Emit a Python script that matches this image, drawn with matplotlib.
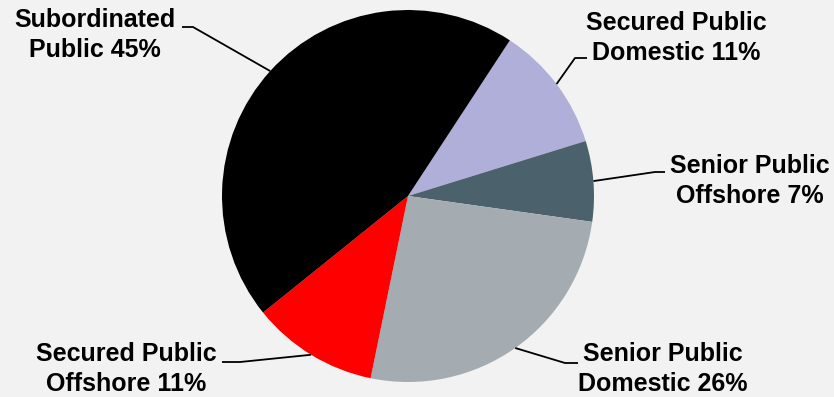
import matplotlib
matplotlib.use("Agg")
import matplotlib.pyplot as plt
import numpy as np

# Data
labels = ["Secured Public\nDomestic 11%", "Senior Public\nOffshore 7%",
          "Senior Public\nDomestic 26%", "Secured Public\nOffshore 11%",
          "Subordinated\nPublic 45%"]
shares = [11, 7, 26, 11, 45]
colors = ["#AFAFD9", "#4B616B", "#A4ACB1", "#FF0000", "#000000"]

W, H = 834, 397
plt.rcParams['font.family'] = ['Liberation Sans', 'DejaVu Sans']

fig = plt.figure(figsize=(W / 100, H / 100), dpi=100, facecolor="#F2F2F2")
ax = fig.add_axes([0, 0, 1, 1])
ax.set_facecolor("#F2F2F2")

cx, cy, r = 408, H - 196, 186
wedges, _ = ax.pie(shares, colors=colors, startangle=56.8, counterclock=False,
                   center=(cx, cy), radius=r, frame=True,
                   wedgeprops=dict(linewidth=0))

# layout: (text x, text y, elbow x, elbow y, end x) in pixel coords (y from top)
layout = [
    (676, 38, 575, 58, 587),
    (750, 181, 655, 172, 665),
    (663, 369, 565, 363, 578),
    (126, 369, 240, 362, 222),
    (95, 35, 193, 27, 182),
]

for w, lab, (tx, ty, ex, ey, fx) in zip(wedges, labels, layout):
    ang = np.deg2rad((w.theta1 + w.theta2) / 2)
    px = cx + r * np.cos(ang)
    py = cy + r * np.sin(ang)
    ax.plot([px, ex, fx], [py, H - ey, H - ey], color="black", lw=1.3,
            solid_capstyle="butt")
    ax.text(tx, H - ty, lab, ha="center", va="center", multialignment="center",
            fontsize=18, fontweight="bold", color="black", linespacing=1.28)

ax.set_xlim(0, W)
ax.set_ylim(0, H)
ax.set_aspect("equal")
ax.axis("off")

fig.savefig("out.png", dpi=100, facecolor=fig.get_facecolor())
